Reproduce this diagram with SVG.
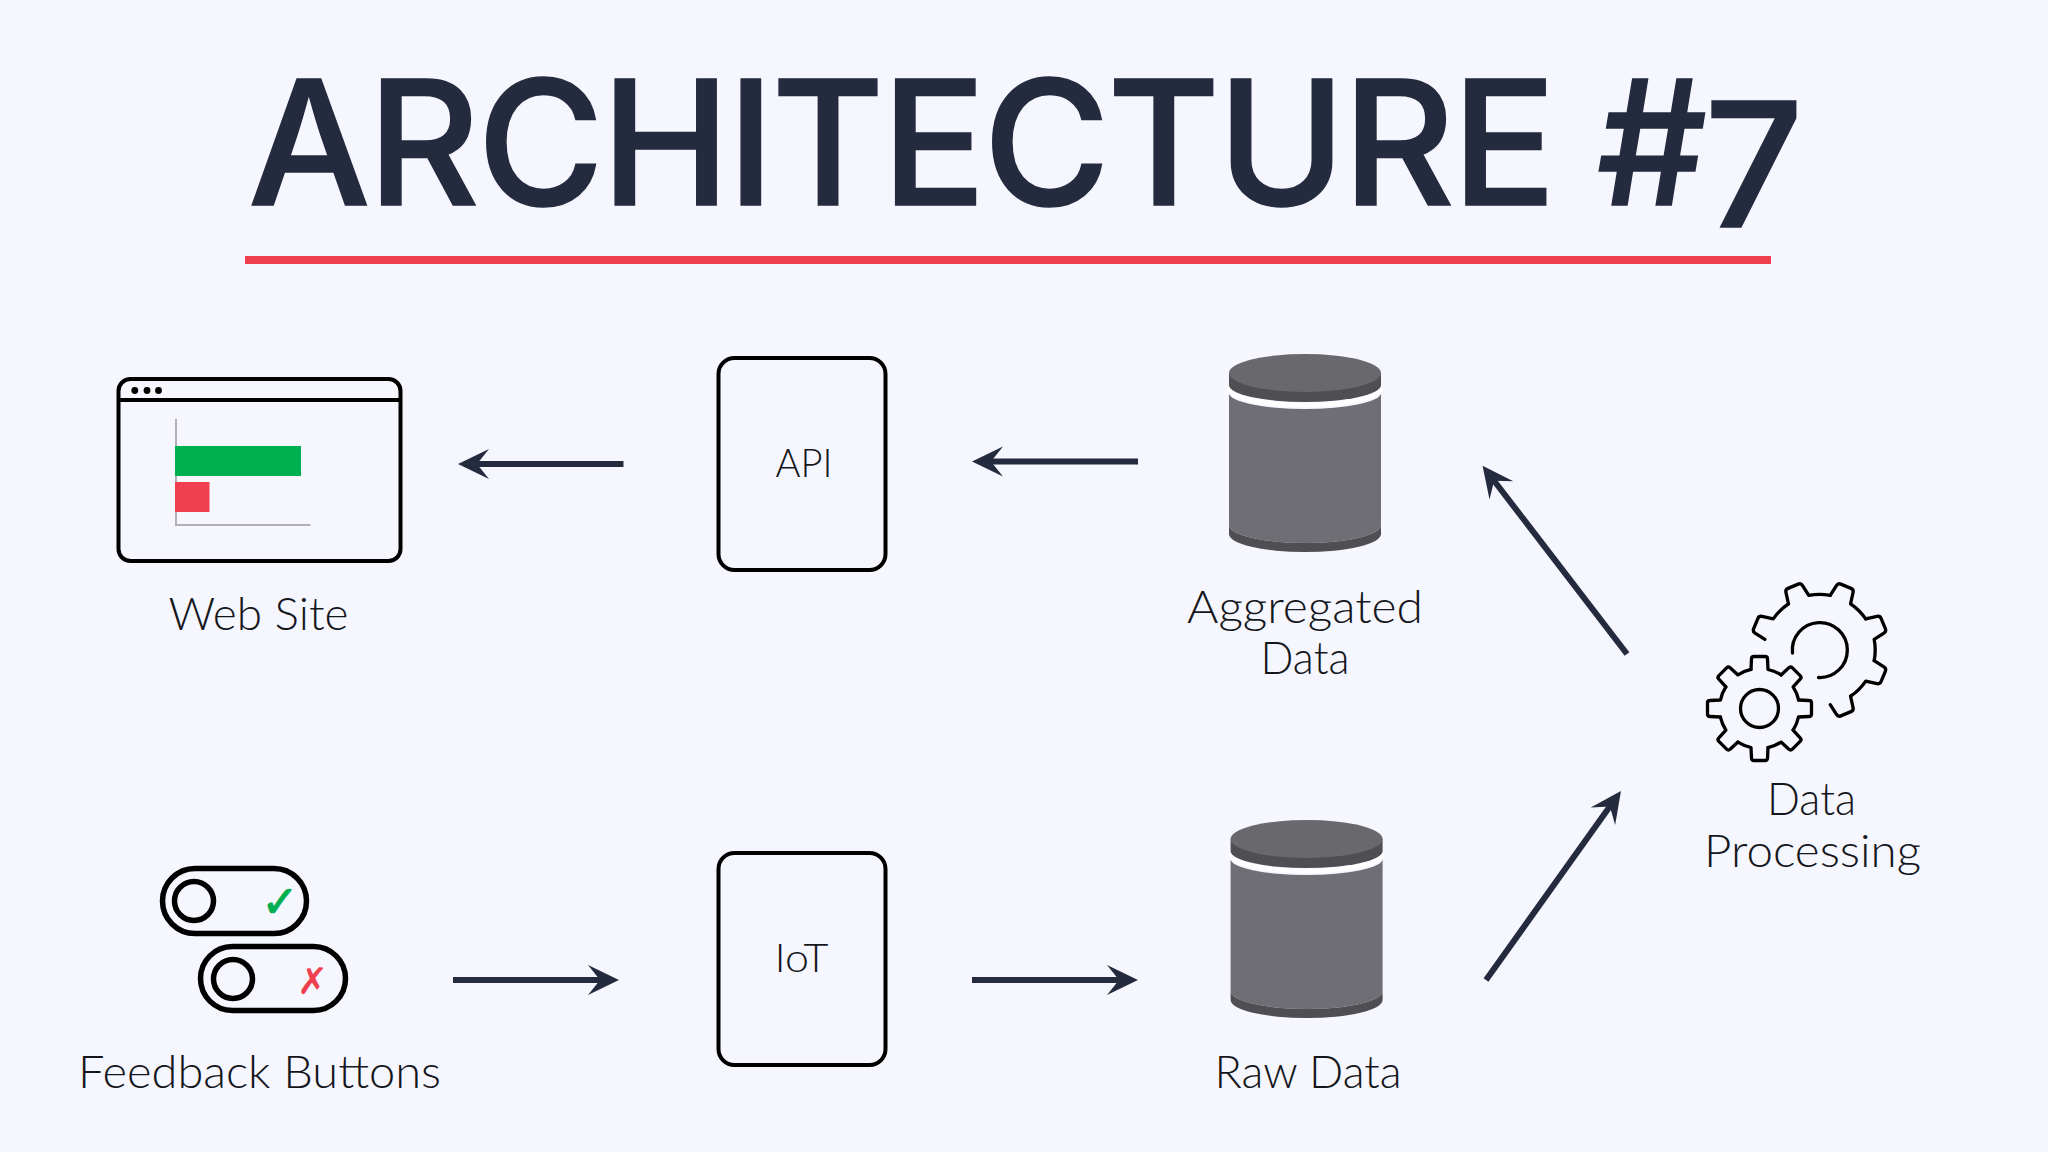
<svg xmlns="http://www.w3.org/2000/svg" width="2048" height="1152" viewBox="0 0 2048 1152">
<style>
.title{font-family:"Inter","Lato","Liberation Sans",sans-serif;font-weight:500;font-size:173px;fill:#252b3f;stroke:#252b3f;stroke-width:1.5;letter-spacing:-2.8px}
.lbl{font-family:"Lato","Liberation Sans",sans-serif;font-weight:300;font-size:45px;fill:#15161c;text-anchor:middle}
.sm{font-size:40px}
.box{fill:none;stroke:#000;stroke-width:4}
.ln{fill:none;stroke:#000;stroke-width:3.3;stroke-linecap:round;stroke-linejoin:round}
.tg{fill:none;stroke:#000;stroke-width:5.5}
.conn{stroke:#252b3f;stroke-width:6;fill:none;marker-end:url(#head)}
</style>
<defs>
<marker id="head" markerUnits="userSpaceOnUse" viewBox="0 0 32 32" refX="13" refY="16" markerWidth="32" markerHeight="32" orient="auto"><path d="M31,16 L0,1 L12,16 L0,31 Z" fill="#252b3f"/></marker>
<g id="cyl">
<path d="M1229,393 A76 16 0 0 0 1381,393 L1381,525 A76 18 0 0 1 1229,525 Z" fill="#6f6e74"/>
<path d="M1229,525 A76 18 0 0 0 1381,525 L1381,534 A76 18 0 0 1 1229,534 Z" fill="#4f4e53"/>
<path d="M1229,388 A76 17 0 0 0 1381,388" fill="none" stroke="#fff" stroke-width="4.5"/>
<path d="M1229,373 L1229,385 A76 17 0 0 0 1381,385 L1381,373 Z" fill="#4f4e53"/>
<ellipse cx="1305" cy="373" rx="76" ry="19" fill="#69686d"/>
</g>
<path id="smt" d="M-8.5,-39 L-8,-49.5 Q-8,-52 -5.5,-52 L5.5,-52 Q8,-52 8,-49.5 L8.5,-39 A40 40 0 0 1 21.6,-33.7" class="ln"/>
<path id="bgt" d="M-11,-54.6 L-9,-66 Q-8.5,-69 -5.5,-69 L5.5,-69 Q8.5,-69 9,-66 L11,-54.6 A55.7 55.7 0 0 1 30.8,-46.4" class="ln"/>
</defs>
<rect width="2048" height="1152" fill="#f5f6fe"/>
<g id="title">
<text class="title" x="248" y="205">ARCHITECTURE #<tspan dy="22">7</tspan></text>
<rect x="245" y="256" width="1526" height="8" fill="#f0404f"/>
</g>
<g id="connectors">
<line class="conn" x1="623.5" y1="464" x2="476" y2="464"/>
<line class="conn" x1="1138" y1="461.5" x2="990" y2="461.5"/>
<line class="conn" x1="453" y1="980" x2="601" y2="980"/>
<line class="conn" x1="972" y1="980" x2="1120" y2="980"/>
<line class="conn" x1="1627" y1="654" x2="1493.5" y2="480"/>
<line class="conn" x1="1486" y1="980" x2="1610.5" y2="805.6"/>
</g>
<g id="web-site">
<rect x="118.5" y="379" width="282" height="182" rx="12" class="box"/>
<line x1="118.5" y1="400" x2="400.5" y2="400" class="box"/>
<circle cx="134.8" cy="390.5" r="3.4"/><circle cx="147" cy="390.5" r="3.4"/><circle cx="158.5" cy="390.5" r="3.4"/>
<path d="M176,419 V525 H310.5" fill="none" stroke="#b0b0b6" stroke-width="2"/>
<rect x="175" y="446" width="126" height="30" fill="#00b050"/>
<rect x="175" y="482" width="34.5" height="30" fill="#f0404f"/>
<text class="lbl" x="258.5" y="630" textLength="180" lengthAdjust="spacingAndGlyphs">Web Site</text>
</g>
<g id="api">
<rect x="718.5" y="358" width="167" height="212" rx="16" class="box"/>
<text class="lbl sm" x="804" y="477" textLength="57" lengthAdjust="spacingAndGlyphs">API</text>
</g>
<g id="aggregated-data">
<use href="#cyl"/>
<text class="lbl" x="1305" y="623" textLength="236" lengthAdjust="spacingAndGlyphs">Aggregated</text>
<text class="lbl" x="1305" y="674" textLength="89" lengthAdjust="spacingAndGlyphs">Data</text>
</g>
<g id="feedback-buttons">
<rect x="162.5" y="868.5" width="144" height="65" rx="32.5" class="tg"/>
<circle cx="194" cy="901" r="19.5" class="tg"/>
<text x="280" y="917" font-family="DejaVu Sans" font-size="44" font-weight="700" fill="#00b050" text-anchor="middle" stroke="#00b050" stroke-width="1.2">✓</text>
<rect x="200.5" y="946.5" width="145" height="64" rx="32" class="tg"/>
<circle cx="233" cy="979" r="19.5" class="tg"/>
<text x="312.5" y="994" font-family="DejaVu Sans" font-size="37" font-weight="700" fill="#f0404f" text-anchor="middle">✗</text>
<text class="lbl" x="259.5" y="1088" textLength="363" lengthAdjust="spacingAndGlyphs">Feedback Buttons</text>
</g>
<g id="iot">
<rect x="718.5" y="853" width="167" height="212" rx="16" class="box"/>
<text class="lbl sm" x="801.5" y="972" textLength="54" lengthAdjust="spacingAndGlyphs">IoT</text>
</g>
<g id="raw-data">
<use href="#cyl" transform="translate(1.6,466)"/>
<text class="lbl" x="1308" y="1088" textLength="187" lengthAdjust="spacingAndGlyphs">Raw Data</text>
</g>
<g id="data-processing">
<g transform="translate(1759.5,708.5)">
<circle r="19" class="ln"/>
<use href="#smt"/><use href="#smt" transform="rotate(45)"/><use href="#smt" transform="rotate(90)"/><use href="#smt" transform="rotate(135)"/><use href="#smt" transform="rotate(180)"/><use href="#smt" transform="rotate(225)"/><use href="#smt" transform="rotate(270)"/><use href="#smt" transform="rotate(315)"/>
</g>
<g transform="translate(1819.5,650)">
<path d="M-27,3 A27.5 27.5 0 1 1 -1,27.5" class="ln"/>
<use href="#bgt" transform="rotate(-67.5)"/><use href="#bgt" transform="rotate(-22.5)"/><use href="#bgt" transform="rotate(22.5)"/><use href="#bgt" transform="rotate(67.5)"/><use href="#bgt" transform="rotate(112.5)"/>
<path d="M-11,-54.6 L-9,-66 Q-8.5,-69 -5.5,-69 L5.5,-69 Q8.5,-69 9,-66 L11,-54.6" class="ln" transform="rotate(157.5)"/>
</g>
<text class="lbl" x="1811.5" y="815" textLength="89" lengthAdjust="spacingAndGlyphs">Data</text>
<text class="lbl" x="1812.5" y="867" textLength="217" lengthAdjust="spacingAndGlyphs">Processing</text>
</g>
</svg>
